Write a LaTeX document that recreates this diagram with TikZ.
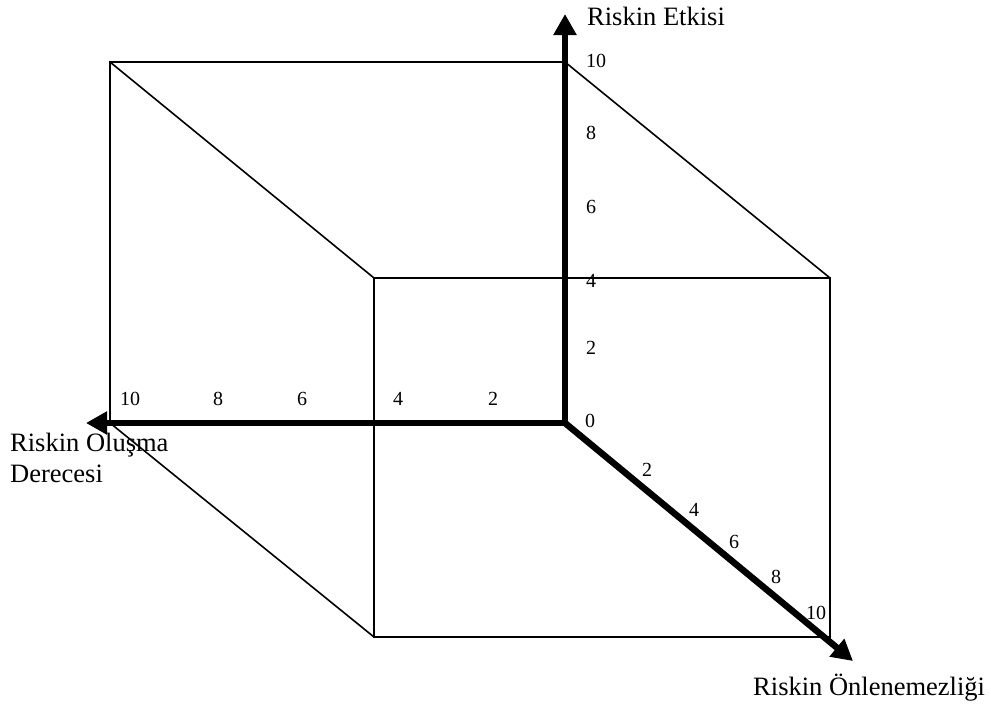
\documentclass[tikz,border=0pt]{standalone}
\usepackage{fontspec}
\setmainfont{Liberation Serif}
\usetikzlibrary{arrows.meta, positioning}

\begin{document}
\begin{tikzpicture}[
    x=1pt, y=-1pt,
    edge/.style={line width=1.6pt},
    axis/.style={line width=6.5pt, -{Triangle[length=21pt, width=22pt]}},
    tick/.style={font=\fontsize{20}{22}\selectfont, inner sep=0pt},
    axislabel/.style={font=\fontsize{26.5}{31}\selectfont, inner sep=0pt, align=left}
  ]
    \useasboundingbox (0,0) rectangle (991,704);

    % Cube corners
    \coordinate (o) at (565,423);
    \coordinate (bl) at (110,62);
    \coordinate (br) at (565,62);
    \coordinate (bb) at (110,423);
    \coordinate (fl) at (374,278);
    \coordinate (fr) at (830,278);
    \coordinate (fbr) at (830,637);
    \coordinate (fbl) at (374,637);

    % Axis tips
    \coordinate (ytip) at (565,14);
    \coordinate (xtip) at (86,423);
    \coordinate (ztip) at (853,661);

    % Cube edges
    \draw[edge] (bb) -- (bl) -- (br);
    \draw[edge] (fl) -- (fr) -- (fbr) -- (fbl) -- cycle;
    \draw[edge] (bl) -- (fl);
    \draw[edge] (br) -- (fr);
    \draw[edge] (bb) -- (fbl);

    % Axes
    \draw[axis] (o) -- (ytip);
    \draw[axis] (o) -- (xtip);
    \draw[axis] (o) -- (ztip);

    % Tick values
    \node[tick] (t0) at (590,421) {0};
    \foreach \v/\y in {10/61, 8/133, 6/207, 4/281, 2/348}
      \node[tick, anchor=west] (vt\v) at (586,\y) {\v};
    \foreach \v/\x in {10/130, 8/218, 6/302, 4/398, 2/493}
      \node[tick] (ht\v) at (\x,399) {\v};
    \foreach \v/\x/\y in {2/647/470, 4/694/510, 6/734/542, 8/776/577, 10/816/613}
      \node[tick] (dt\v) at (\x,\y) {\v};

    % Axis labels
    \node[axislabel, anchor=base west] (etki) at (587,25) {Riskin Etkisi};
    \node[axislabel, anchor=base west] (olusma) at (10,482) {Riskin Oluşma\\Derecesi};
    \node[axislabel, anchor=base west] (onlem) at (753,695) {Riskin Önlenemezliği};
  \end{tikzpicture}
\end{document}
